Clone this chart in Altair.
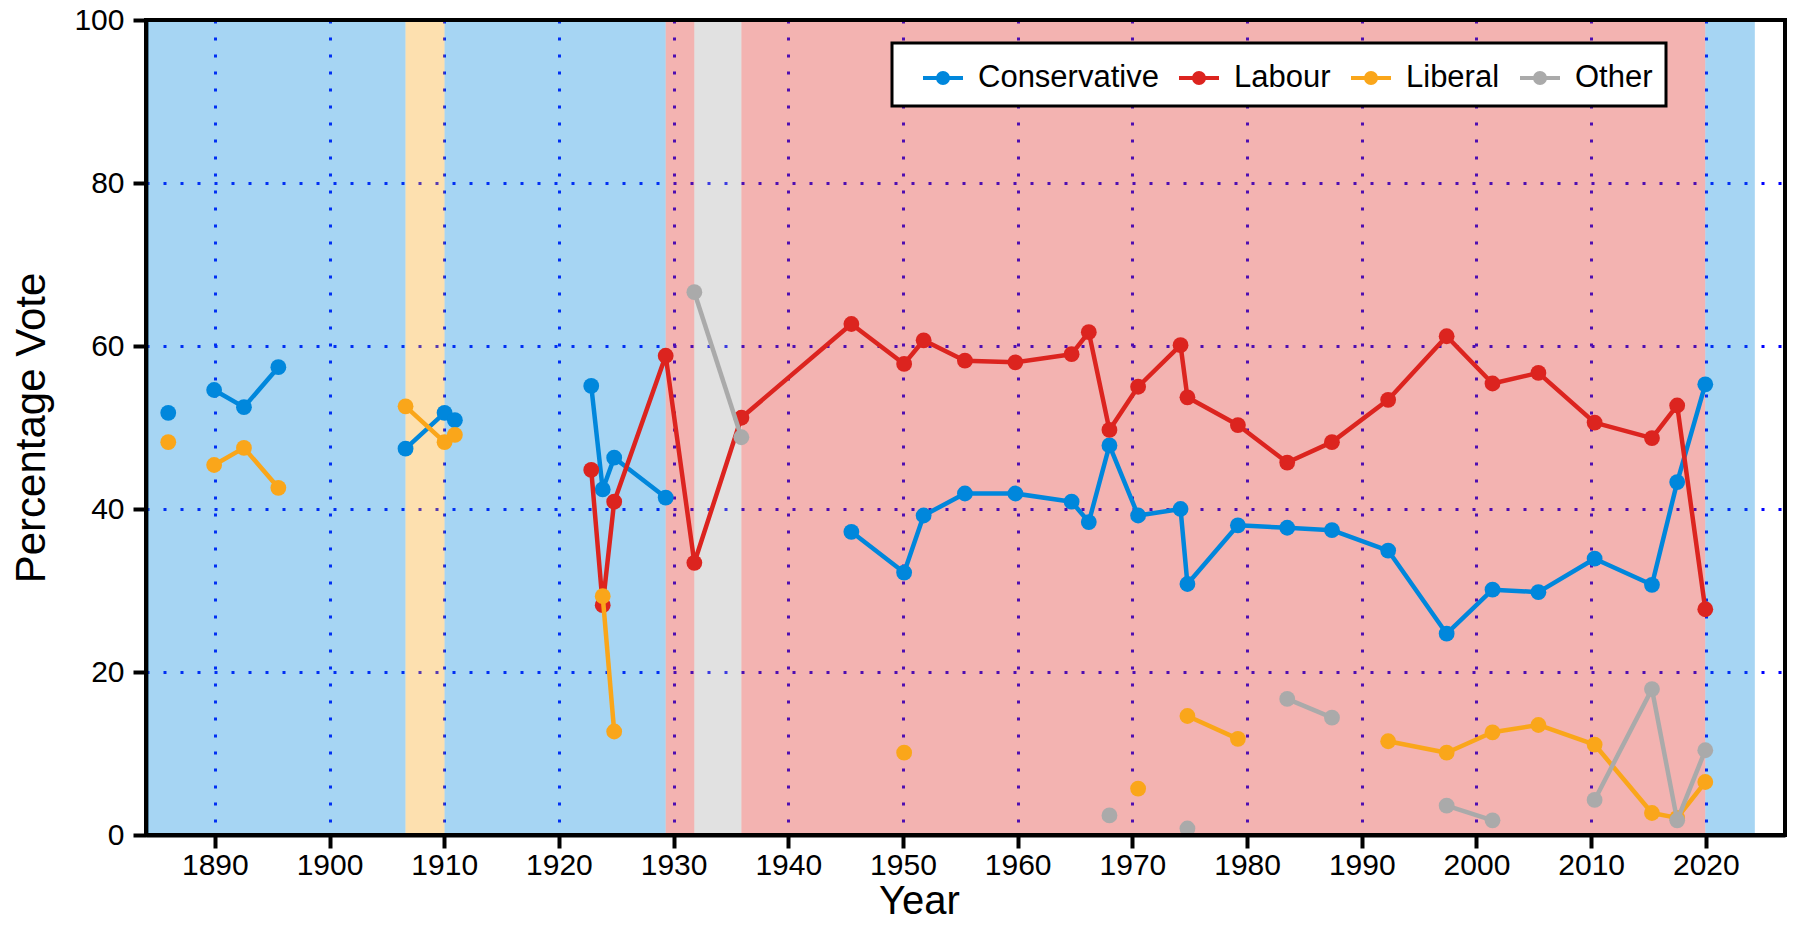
import altair as alt
import pandas as pd

# ---------------- data ----------------
years = [1885.94, 1886.5, 1889.94, 1892.54, 1895.54, 1900.75, 1906.63, 1910.03, 1910.93,
         1918.95, 1922.82, 1923.82, 1924.82, 1929.31, 1931.81, 1935.91, 1945.5, 1950.1,
         1951.8, 1955.4, 1959.8, 1964.7, 1966.2, 1968.0, 1970.5, 1974.2, 1974.8, 1979.2,
         1983.5, 1987.4, 1992.3, 1997.4, 2001.4, 2005.4, 2010.3, 2015.3, 2017.5, 2019.95]

conservative = [51.8, None, 54.6, 52.5, 57.4, None, 47.4, 51.8, 50.9,
                None, 55.1, 42.4, 46.3, 41.4, None, None, 37.2, 32.2,
                39.2, 41.9, 41.9, 40.9, 38.4, 47.8, 39.2, 40.0, 30.8, 38.0,
                37.7, 37.4, 34.9, 24.7, 30.1, 29.8, 33.9, 30.7, 43.3, 55.3]

labour = [None, None, None, None, None, None, None, None, None,
          None, 44.8, 28.2, 40.9, 58.8, 33.4, 51.2, 62.7, 57.8,
          60.7, 58.2, 58.0, 59.0, 61.7, 49.7, 55.0, 60.1, 53.7, 50.3,
          45.7, 48.2, 53.4, 61.2, 55.4, 56.7, 50.6, 48.7, 52.7, 27.7]

liberal = [48.2, None, 45.4, 47.5, 42.6, None, 52.6, 48.2, 49.1,
           None, None, 29.3, 12.7, None, None, None, None, 10.1,
           None, None, None, None, None, None, 5.7, None, 14.6, 11.8,
           None, None, 11.5, 10.1, 12.6, 13.5, 11.1, 2.7, 2.1, 6.5]

other = [None, None, None, None, None, None, None, None, None,
         None, None, None, None, None, 66.6, 48.8, None, None,
         None, None, None, None, None, 2.4, None, None, 0.8, None,
         16.7, 14.4, None, 3.6, 1.8, None, 4.3, 17.9, 1.8, 10.4]

parties = ["Conservative", "Labour", "Liberal", "Other"]
party_colors = ["#0087DC", "#DC241F", "#FAA61A", "#AAAAAA"]

# seat holder between elections (background bands)
band_start = [1884.0, 1906.63, 1910.03, 1929.31, 1931.81, 1935.91, 2019.95]
band_end = [1906.63, 1910.03, 1929.31, 1931.81, 1935.91, 2019.95, 2024.27]
band_party = ["Conservative", "Liberal", "Conservative", "Labour", "Other", "Labour", "Conservative"]

x_domain = [1884.0, 2026.9]
y_domain = [0, 100]
x_ticks = [1890, 1900, 1910, 1920, 1930, 1940, 1950, 1960, 1970, 1980, 1990, 2000, 2010, 2020]
y_ticks = [0, 20, 40, 60, 80, 100]

# ---------------- tables ----------------
rows = []
for party, series in zip(parties, [conservative, labour, liberal, other]):
    seg = 0
    gap = True
    for yr, v in zip(years, series):
        if v is None:
            gap = True
            continue
        if gap:
            seg += 1
            gap = False
        rows.append({"year": yr, "party": party, "value": v, "seg": f"{party}-{seg}"})
df = pd.DataFrame(rows)

color_of = dict(zip(parties, party_colors))
bands = pd.DataFrame({"start": band_start, "end": band_end, "party": band_party})
bands["fill"] = bands["party"].map(color_of)

FONT = "Liberation Sans"

x_scale = alt.Scale(domain=x_domain, nice=False, zero=False)
y_scale = alt.Scale(domain=y_domain, nice=False, zero=False)
x_axis = alt.Axis(values=x_ticks, format="d", title="Year", labelPadding=2,
                  titleFontSize=40, titleX=773, titleY=78, titleBaseline="alphabetic")
y_axis = alt.Axis(values=y_ticks, format="d", title="Percentage Vote", labelPadding=9,
                  titlePadding=20)

legend_symbol = "M-1,0H1M0.25,0A0.25,0.25,0,1,1,-0.25,0A0.25,0.25,0,1,1,0.25,0Z"
leg = alt.Legend(title=None, orient="none", legendX=746, legendY=23, direction="horizontal",
                 columns=4, symbolType=legend_symbol, symbolSize=1600, symbolStrokeWidth=4,
                 symbolOpacity=1, symbolOffset=16,
                 labelFontSize=31, labelFont=FONT, labelColor="black", labelOffset=13,
                 labelLimit=400, columnPadding=2, padding=13,
                 fillColor="white", strokeColor="black")

stroke_scale = alt.Scale(domain=parties, range=party_colors)
fill_scale = alt.Scale(domain=parties, range=party_colors)

bg = alt.Chart(bands).mark_rect(fillOpacity=0.35).encode(
    x=alt.X("start:Q", scale=x_scale, axis=x_axis),
    x2="end:Q",
    y=alt.Y(datum=0, type="quantitative", scale=y_scale, axis=y_axis),
    y2=alt.Y2(datum=100),
    fill=alt.Fill("fill:N", scale=None),
)

layers = [bg]
base = alt.Chart(df)
for party in parties:
    sub = base.transform_filter(alt.datum.party == party)
    line = sub.mark_line(strokeWidth=4.5, strokeJoin="round", opacity=1).encode(
        x=alt.X("year:Q", scale=x_scale, axis=x_axis),
        y=alt.Y("value:Q", scale=y_scale, axis=y_axis),
        stroke=alt.Stroke("party:N", scale=stroke_scale, legend=leg),
        detail="seg:N",
    )
    pts = sub.mark_point(filled=True, size=250, opacity=1).encode(
        x=alt.X("year:Q", scale=x_scale, axis=x_axis),
        y=alt.Y("value:Q", scale=y_scale, axis=y_axis),
        fill=alt.Fill("party:N", scale=fill_scale, legend=leg),
    )
    layers += [line, pts]

frame = alt.Chart(bands).mark_rect(filled=False, stroke="black", strokeWidth=4).encode(
    x=alt.X(datum=x_domain[0], type="quantitative", scale=x_scale, axis=x_axis),
    x2=alt.X2(datum=x_domain[1]),
    y=alt.Y(datum=y_domain[0], type="quantitative", scale=y_scale, axis=y_axis),
    y2=alt.Y2(datum=y_domain[1]),
)
layers.append(frame)

chart = alt.layer(*layers).properties(
    width=1639, height=815,
    padding={"left": 138, "top": 12, "right": 4, "bottom": 86},
    autosize=alt.AutoSizeParams(type="none"),
).configure_view(
    stroke="black", strokeWidth=4
).configure_axis(
    domainColor="black", domainWidth=4, tickColor="black", tickWidth=4, tickSize=13,
    labelFont=FONT, labelFontSize=30, labelColor="black",
    titleFont=FONT, titleFontSize=42, titleFontWeight="normal", titleColor="black",
    grid=True, gridColor="#0000FF", gridWidth=3, gridDash=[3, 14], gridOpacity=1,
).configure_legend(
    strokeWidth=3, cornerRadius=0
)

chart.save("out.html", embed_options={"renderer": "svg", "actions": False})
